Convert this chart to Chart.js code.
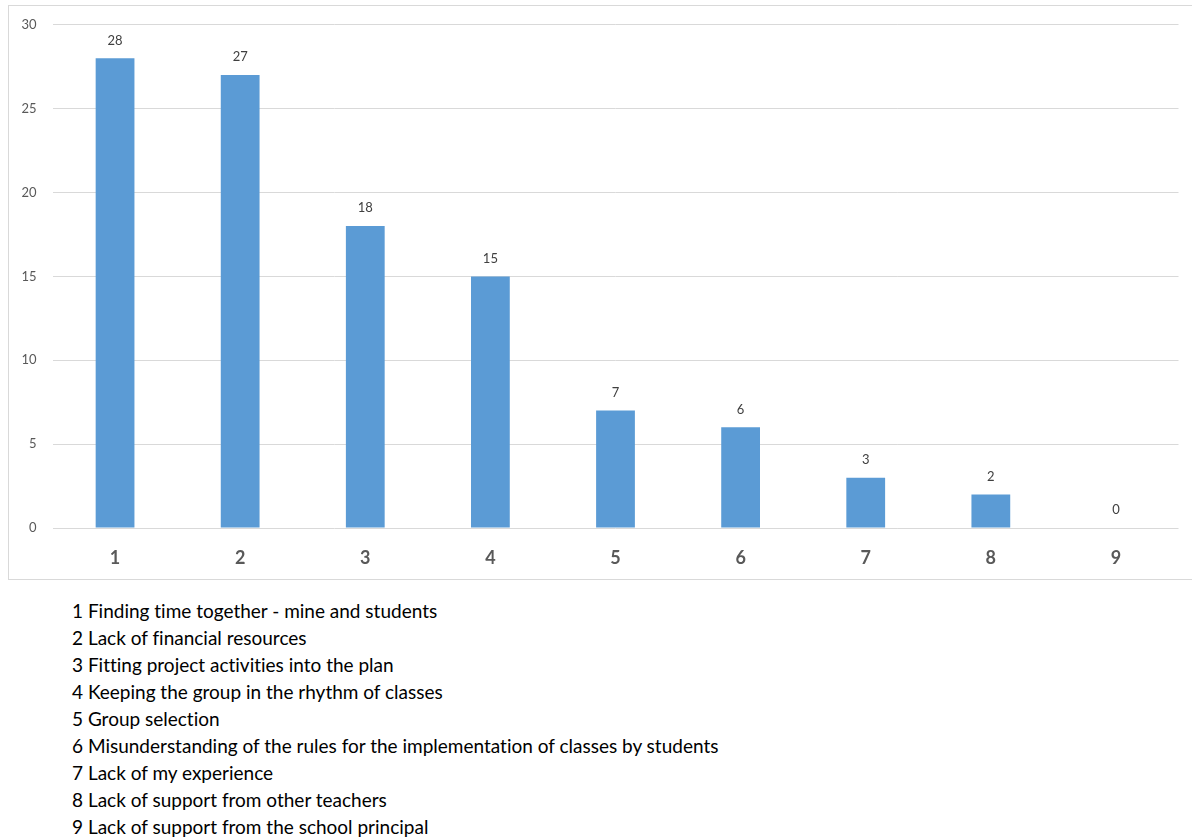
<!DOCTYPE html>
<html>
<head>
<meta charset="utf-8">
<script src="https://cdn.jsdelivr.net/npm/chart.js@4"></script>
<style>
  html, body { margin: 0; padding: 0; background: #fff; overflow: hidden; width: 1192px; height: 838px; }
  #frame { position: absolute; left: 8px; top: 5px; width: 1200px; height: 573px; border: 1px solid #d9d9d9; }
  #wrap { position: absolute; left: 0; top: -5px; width: 1192px; height: 577px; }
  #notes { position: absolute; left: 72px; top: 597px; font-family: Lato, "Liberation Sans", sans-serif; font-size: 19px; color: #000; line-height: 27px; font-variant-ligatures: none; }
</style>
</head>
<body>
<div id="frame"><div id="wrap"><canvas id="c"></canvas></div></div>
<div id="notes"></div>
<script>
const categories = ["1", "2", "3", "4", "5", "6", "7", "8", "9"];
const counts = [28, 27, 18, 15, 7, 6, 3, 2, 0];
const yTicks = [0, 5, 10, 15, 20, 25, 30];
const descriptions = [
  "Finding time together - mine and students",
  "Lack of financial resources",
  "Fitting project activities into the plan",
  "Keeping the group in the rhythm of classes",
  "Group selection",
  "Misunderstanding of the rules for the implementation of classes by students",
  "Lack of my experience",
  "Lack of support from other teachers",
  "Lack of support from the school principal"
];

// Numbered key under the chart
const notes = document.getElementById('notes');
categories.forEach((c, i) => {
  const d = document.createElement('div');
  d.textContent = c + ' ' + descriptions[i];
  notes.appendChild(d);
});

// Value labels above each bar
const valueLabels = {
  id: 'valueLabels',
  afterDatasetsDraw(chart) {
    const ctx = chart.ctx;
    const meta = chart.getDatasetMeta(0);
    ctx.save();
    ctx.font = '13px Lato, "Liberation Sans", sans-serif';
    ctx.fillStyle = '#404040';
    ctx.textAlign = 'center';
    ctx.textBaseline = 'middle';
    meta.data.forEach((bar, i) => {
      ctx.fillText(String(counts[i]), bar.x, bar.y - 18);
    });
    ctx.restore();
  }
};

new Chart(document.getElementById('c'), {
  type: 'bar',
  data: {
    labels: categories,
    datasets: [{
      data: counts,
      backgroundColor: '#5b9bd5',
      borderWidth: 0,
      barPercentage: 0.31,
      categoryPercentage: 1
    }]
  },
  options: {
    responsive: true,
    maintainAspectRatio: false,
    animation: false,
    layout: { padding: { left: 8.5, right: 22.5, top: 13, bottom: 0 } },
    plugins: { legend: { display: false }, tooltip: { enabled: false } },
    scales: {
      x: {
        grid: { display: false, drawTicks: false },
        border: { display: false },
        ticks: {
          color: '#595959',
          font: { family: 'Lato, "Liberation Sans", sans-serif', size: 18, weight: 'bold' },
          padding: 19
        },
        afterFit(scale) { scale.height = 50; }
      },
      y: {
        min: 0,
        max: 30,
        afterBuildTicks(scale) { scale.ticks = yTicks.map(v => ({ value: v })); },
        grid: { color: '#d9d9d9', lineWidth: 1, drawTicks: false },
        border: { display: false },
        ticks: {
          color: '#595959',
          font: { family: 'Lato, "Liberation Sans", sans-serif', size: 13 },
          padding: 16
        },
        afterFit(scale) { scale.width = 35; }
      }
    }
  },
  plugins: [valueLabels]
});
</script>
</body>
</html>
